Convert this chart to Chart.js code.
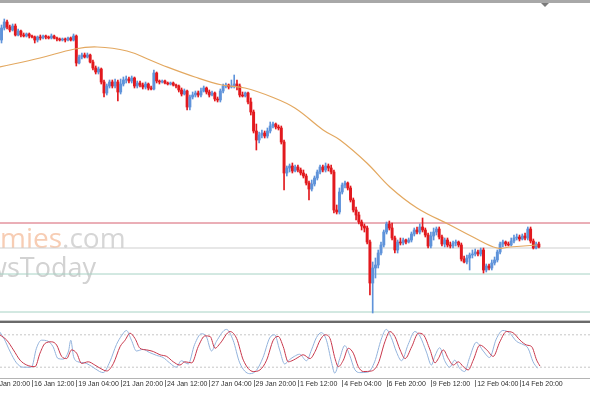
<!DOCTYPE html>
<html><head><meta charset="utf-8">
<script src="https://cdn.jsdelivr.net/npm/chart.js@4.4.0/dist/chart.umd.min.js"></script>
<style>
html,body{margin:0;padding:0;background:#fff;overflow:hidden}
#wrap{position:relative;width:590px;height:393px;background:#fff}
canvas{position:absolute;left:0}
#main{top:0px}
#osc{top:320px}
</style></head><body>
<div id="wrap">
<canvas id="main" width="590" height="320"></canvas>
<canvas id="osc" width="590" height="73"></canvas>
</div>
<script>
// H4 candles; index 0 = 16 Jan 12:00 (relative price units, no price axis visible)
const firstBar = -11;
const opens  = [280,292,298,293,290,294,285,289,285,284,286,284,283,280,283,282,284,283,282,284,282,281,280,281,280,282,280,284,257,263,265,263,265,258,252,248,251,238,227,234,238,234,238,228,236,240,241,239,242,234,237,235,233,236,232,231,247,239,238,239,237,236,237,235,234,230,226,229,213,223,225,227,225,229,232,228,225,227,221,220,229,234,235,233,234,236,234,225,224,227,218,208,189,180,185,187,184,189,194,196,193,192,178,147,152,154,149,153,150,147,144,137,131,136,142,148,153,150,154,152,148,110,108,128,135,137,132,120,110,105,98,94,92,78,37,52,55,67,75,88,96,92,82,70,78,77,80,78,80,86,90,88,93,90,85,74,84,88,91,83,76,80,75,74,77,78,75,61,58,62,65,66,68,66,70,50,54,52,57,60,68,76,78,76,75,79,82,83,81,84,82,91,79,72,76];
const closes = [292,298,293,290,294,285,289,285,284,286,284,283,280,283,282,284,283,282,284,282,281,280,281,280,282,280,284,257,263,265,263,265,258,252,248,251,238,227,234,238,234,238,228,236,240,241,239,242,234,237,235,233,236,232,231,247,239,238,239,237,236,237,235,234,230,226,229,213,223,225,227,225,229,232,228,225,227,221,220,229,234,235,233,234,236,234,225,224,227,218,208,189,180,185,187,184,189,194,196,193,192,178,147,152,154,149,153,150,147,144,137,131,136,142,148,153,150,154,152,148,110,108,128,135,137,132,120,110,105,98,94,92,78,37,52,55,67,75,88,96,92,82,70,78,77,80,78,80,86,90,88,93,90,85,74,84,88,91,83,76,80,75,74,77,78,75,61,58,62,65,66,68,66,70,50,54,52,57,60,68,76,78,76,75,79,82,83,81,84,82,91,79,72,76,73];
const highs  = [295,301,300,295,296,296,291,290,287,287,287,285,284,284,285,285,285,284,286,285,283,282,282,282,283,283,286,285,265,267,267,267,266,260,254,253,252,240,236,240,240,241,240,241,243,244,243,244,243,239,239,237,238,237,234,250,248,240,240,240,238,238,238,236,235,232,231,230,225,228,229,229,232,234,233,230,229,228,223,231,236,237,236,240,245,240,236,228,228,228,222,210,196,188,190,189,192,198,198,197,195,194,180,154,156,157,155,155,152,150,146,139,140,144,150,155,155,157,156,155,150,115,132,137,139,138,134,122,113,108,100,96,94,80,58,62,70,78,90,98,99,97,84,80,82,82,81,82,88,92,93,96,102,92,87,88,92,93,93,85,82,82,78,79,80,79,77,64,65,67,70,71,70,72,72,56,56,60,63,70,78,80,79,78,82,85,86,85,86,87,93,93,81,78,78];
const lows   = [277,290,291,288,289,284,284,283,283,283,282,282,277,278,280,281,281,281,281,281,279,279,279,278,279,279,279,254,256,261,262,262,257,250,246,246,236,223,225,232,232,232,219,226,234,237,237,237,232,232,233,231,231,230,230,230,237,236,237,236,235,235,234,232,228,224,225,210,210,221,223,223,223,228,226,223,224,219,218,218,227,232,231,232,232,230,223,223,223,216,205,187,170,177,182,182,182,187,192,191,190,176,130,144,148,147,148,148,145,142,135,120,129,134,140,146,148,148,149,146,107,106,106,126,132,130,118,108,100,96,90,88,76,25,7,42,52,65,73,86,90,80,67,67,75,75,76,77,78,84,86,86,88,83,72,72,80,85,81,74,73,73,72,72,74,73,59,57,56,50,62,64,64,64,47,48,50,50,55,58,66,73,74,74,74,77,80,79,80,80,80,77,71,71,72];

// moving average read at sample bars
const maIdx = [-11.6,2.9,15.5,23.5,34.3,42.6,46.9,58.8,68.6,76.9,86.6,94.9,105.1,111.2,120.9,129.2,139,150.9,159.2,167.9,172.6,182.3];
const maVal = [253,262,271,273,269,260,255,243,235,232,223,212,190,180,157,133,112,95,83,72,73,75];

// horizontal levels
const levelVals = [97,72,46,8];
const levelColors = ['#d65f6f','#cfcfcf','#a6d2c4','#a6d2c4'];

// stochastic (%K, %D) read at sample bars
const kIdx = [-11.6,-10,-8,-5.6,-3.2,-0.2,1.6,3.4,5.8,7.6,9.4,11.2,13.2,14,15,16.6,19,21.4,24.4,25.7,28.1,30.5,32.3,34.1,35.9,37.7,40.1,42.5,44.9,47.3,49.7,52.1,53.9,56.4,58.7,61.2,63,64.8,66.6,70.2,72.6,75,78.6,81,83.4,85.8,87.6,89.4,91.2,93,94.7,96.6,99.1,100.9,102.7,104.5,106.3,108.1,109.3,111.1,112.9,114.7,116.5,118.3,121.3,123.7,126.1,127.9,129.7,131.6,133.4,135.8,138.2,140,142.4,144.2,145.4,147.2,149,150.8,152.6,154.4,156.2,158,160.4,162.9,165.2,167.6,170,172.3,174.9,177.3,179.1,180.9,182.5];
const kVal = [85,72,50,28,20,20,55,70,68,58,36,35,50,70,40,30,28,22,12,10,30,62,78,88,70,50,53,47,42,38,28,20,32,26,62,82,76,50,68,90,70,28,8,14,38,74,80,52,26,34,40,44,32,52,75,84,70,30,9,36,60,42,16,10,11,30,72,90,75,48,32,62,86,78,48,24,40,56,32,20,33,18,12,38,66,50,38,72,88,84,68,62,55,30,18];
const dIdx = [-11.6,-9.1,-6.7,-4.3,-1.9,1.1,2.9,4.7,7.1,8.9,10.7,12.5,14.3,16.1,17.9,20.3,22.7,25.7,27,29.4,31.8,33.6,35.4,37.2,39,41.4,43.8,46.2,48.6,51,53.4,55.2,57.7,60,62.5,64.3,66.1,67.9,71.5,73.9,76.3,79.9,82.3,84.7,87.1,88.9,90.7,92.5,94.3,96,97.9,100.4,102.2,104,105.8,107.6,109.4,110.6,112.4,114.2,116,117.8,119.6,122.6,125,127.4,129.2,131,132.9,134.7,137.1,139.5,141.3,143.7,145.5,146.7,148.5,150.3,152.1,153.9,155.7,157.5,159.3,161.7,164.2,166.5,168.9,171.3,173.6,176.2,178.6,180.4,182.2,183.4];
const dVal = [80,70,52,33,24,21,46,64,67,61,40,36,52,46,27,30,24,15,13,27,58,70,83,73,55,52,49,43,40,30,24,30,28,58,78,77,55,64,86,73,33,12,15,33,70,77,58,30,33,38,43,36,49,70,80,73,36,21,33,55,46,21,12,13,27,67,86,77,52,36,58,83,80,52,28,36,52,36,24,30,21,15,33,61,52,40,67,86,84,70,61,58,33,22];
const stochLevels = [80,20];

// time axis (the first label lies left of the visible range, only partly seen)
const tickIdx = [-16,0,16,32,48,64,80,96,112,128,144,160,176];
const tickLabels = ['13 Jan 20:00','16 Jan 12:00','19 Jan 04:00','21 Jan 20:00','24 Jan 12:00','27 Jan 04:00','29 Jan 20:00','1 Feb 12:00','4 Feb 04:00','6 Feb 20:00','9 Feb 12:00','12 Feb 04:00','14 Feb 20:00'];

const xMin = -11.55, xMax = 201.45;
const BULL = '#5f93da', BEAR = '#e2191e';
const LABEL_FONT = '7px "Liberation Sans", Arial, sans-serif';

const idx = opens.map((_, k) => firstBar + k);
const candleColors = opens.map((o, k) => closes[k] >= o ? BULL : BEAR);
const wickData = idx.map((i, k) => ({x: i, y: [lows[k], highs[k]]}));
const bodyData = idx.map((i, k) => ({x: i, y: [opens[k], closes[k]]}));
const maData = maIdx.map((x, k) => ({x, y: maVal[k]}));

const mainDecor = {
  id: 'mainDecor',
  beforeDatasetsDraw(chart) {
    const ctx = chart.ctx;
    ctx.save();
    ctx.textBaseline = 'alphabetic';
    ctx.font = '28px "Open Sans"';
    const x0 = -ctx.measureText('Econo').width;
    ctx.fillStyle = '#f7cdb4';
    ctx.fillText('Economies', x0, 248);
    ctx.fillStyle = '#d6d6d6';
    ctx.fillText('.com', x0 + ctx.measureText('Economies').width, 248);
    ctx.font = '27px "Open Sans"';
    ctx.fillStyle = '#d2d2d2';
    ctx.fillText('NewsToday', 7 - ctx.measureText('New').width, 277);
    ctx.restore();
  },
  afterDraw(chart) {
    const ctx = chart.ctx;
    ctx.save();
    ctx.fillStyle = '#a8a8a8';
    ctx.fillRect(0, 0, 590, 3);
    ctx.fillStyle = '#7a7a7a';
    ctx.beginPath();
    ctx.moveTo(541, 3); ctx.lineTo(549, 3); ctx.lineTo(545, 7); ctx.closePath();
    ctx.fill();
    ctx.restore();
  }
};

new Chart(document.getElementById('main'), {
  type: 'bar',
  data: {
    datasets: [
      {type: 'line', data: maData, borderColor: '#e3a860', borderWidth: 1.2, pointRadius: 0, tension: 0.4, order: 0},
      {type: 'bar', data: bodyData, backgroundColor: candleColors, borderWidth: 0, barThickness: 2.3, minBarLength: 1, grouped: false, order: 1},
      {type: 'bar', data: wickData, backgroundColor: candleColors, borderWidth: 0, barThickness: 1, grouped: false, order: 2},
      ...levelVals.map((v, k) => ({type: 'line', data: [{x: xMin, y: v}, {x: xMax, y: v}], borderColor: levelColors[k], borderWidth: 1, pointRadius: 0, order: 3}))
    ]
  },
  options: {
    responsive: false, animation: false, events: [],
    layout: {padding: {top: 4, left: 0, right: 0, bottom: 0}},
    plugins: {legend: {display: false}, tooltip: {enabled: false}},
    scales: {
      x: {type: 'linear', min: xMin, max: xMax, display: false, offset: false},
      y: {min: 0, max: 316, display: false}
    }
  },
  plugins: [mainDecor]
});

const oscDecor = {
  id: 'oscDecor',
  afterDraw(chart) {
    const ctx = chart.ctx;
    const xs = chart.scales.x;
    ctx.save();
    ctx.fillStyle = '#c4c4c4';
    ctx.fillRect(0, 0, 590, 1);
    ctx.fillStyle = '#6a6a6a';
    ctx.fillRect(0, 1, 590, 2);
    ctx.fillStyle = '#b4b4b4';
    ctx.fillRect(0, 58, 590, 1);
    ctx.strokeStyle = '#7a7a7a';
    ctx.lineWidth = 1;
    tickIdx.forEach(v => {
      const px = Math.round(xs.getPixelForValue(v)) + 0.5;
      ctx.beginPath(); ctx.moveTo(px, 60); ctx.lineTo(px, 67); ctx.stroke();
    });
    // labels of ticks that fall left of the visible range (clipped by the canvas edge)
    ctx.font = LABEL_FONT;
    ctx.fillStyle = '#2e2e2e';
    ctx.textAlign = 'left';
    ctx.textBaseline = 'middle';
    tickIdx.forEach((v, k) => {
      if (v < xMin) ctx.fillText(tickLabels[k], xs.getPixelForValue(v) + 2, xs.top + 1.5 + 4.2);
    });
    ctx.restore();
  }
};

new Chart(document.getElementById('osc'), {
  type: 'line',
  data: {
    datasets: [
      {data: dIdx.map((x, k) => ({x, y: dVal[k]})), borderColor: '#c8374b', borderWidth: 1, pointRadius: 0, tension: 0.4, cubicInterpolationMode: 'monotone', order: 1},
      {data: kIdx.map((x, k) => ({x, y: kVal[k]})), borderColor: '#93b3dc', borderWidth: 1, pointRadius: 0, tension: 0.4, cubicInterpolationMode: 'monotone', order: 2},
      ...stochLevels.map(v => ({data: [{x: xMin, y: v}, {x: xMax, y: v}], borderColor: '#c6c6c6', borderWidth: 1, borderDash: [2, 2], pointRadius: 0, order: 3}))
    ]
  },
  options: {
    responsive: false, animation: false, events: [],
    layout: {padding: {top: 4, left: 0, right: 0, bottom: 0}},
    plugins: {legend: {display: false}, tooltip: {enabled: false}},
    scales: {
      x: {
        type: 'linear', min: xMin, max: xMax, offset: false,
        grid: {display: false, drawTicks: false},
        border: {display: false},
        afterBuildTicks: s => { s.ticks = tickIdx.filter(v => v >= xMin && v <= xMax).map(v => ({value: v})); },
        afterFit: s => { s.height = 15; s.paddingLeft = 0; s.paddingRight = 0; },
        ticks: {
          autoSkip: false, maxRotation: 0, minRotation: 0, align: 'start', labelOffset: 2, padding: 1.5,
          color: '#2e2e2e', font: {family: '"Liberation Sans", Arial, sans-serif', size: 7},
          callback: v => { const k = tickIdx.indexOf(v); return k >= 0 ? tickLabels[k] : ''; }
        }
      },
      y: {min: 0, max: 100, display: false}
    }
  },
  plugins: [oscDecor]
});
</script>
</body></html>
